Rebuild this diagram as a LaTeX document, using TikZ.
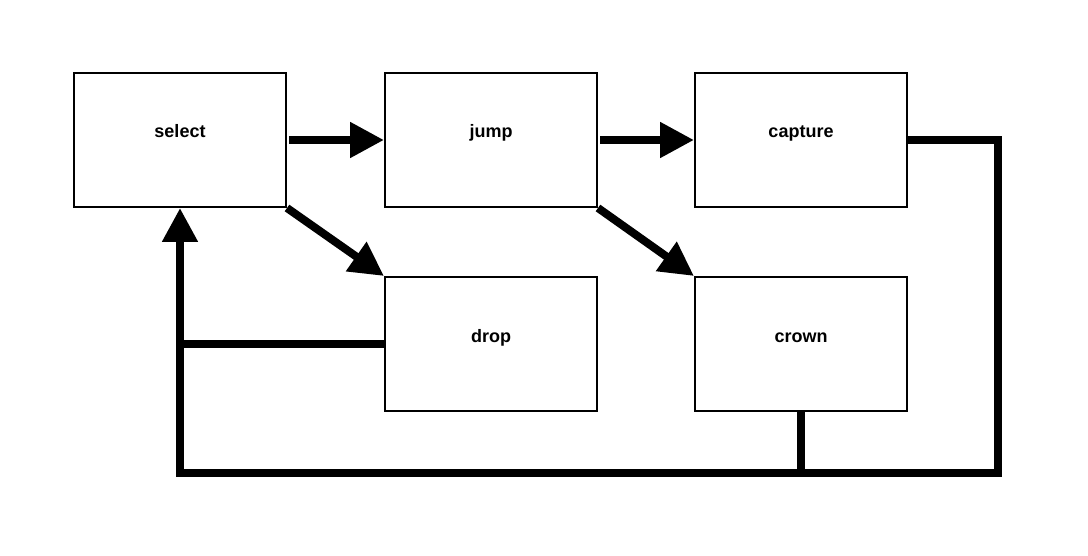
\documentclass[tikz,border=0pt]{standalone}
\usepackage{fontspec}
\setmainfont{Liberation Sans}
\usetikzlibrary{arrows.meta,positioning,calc}

\begin{document}
\begin{tikzpicture}[
    x=1pt, y=-1pt,
    node distance=68pt and 97pt,
    box/.style={rectangle, draw, line width=2pt, minimum width=212pt, minimum height=134pt,
        font=\fontsize{18}{22}\selectfont\bfseries, text height=13pt, text depth=17pt},
    flow/.style={line width=8pt, -{Triangle[length=34pt,width=34pt]}},
    back/.style={line width=8pt}
]
    \useasboundingbox (0,0) rectangle (1088,556);

    % Top row
    \node[box] (select) at (180,140) {select};
    \node[box, right=of select] (jump) {jump};
    \node[box, right=96pt of jump] (capture) {capture};

    % Bottom row
    \node[box, below=of jump] (drop) {drop};
    \node[box, below=of capture] (crown) {crown};

    % Return line
    \coordinate (corner) at (998,473);

    % Edges
    \draw[flow, shorten <=2pt] (select.east) -- (jump.west);
    \draw[flow, shorten <=2pt] (jump.east) -- (capture.west);
    \draw[flow] (select.south east) -- (drop.north west);
    \draw[flow] (jump.south east) -- (crown.north west);
    \draw[flow, line join=miter] (capture.east) -| (corner) -| (select.south);
    \draw[back] (crown.south) -- (crown.south |- corner);
    \draw[back] (drop.west) -- (drop.west -| select.south);
\end{tikzpicture}
\end{document}
